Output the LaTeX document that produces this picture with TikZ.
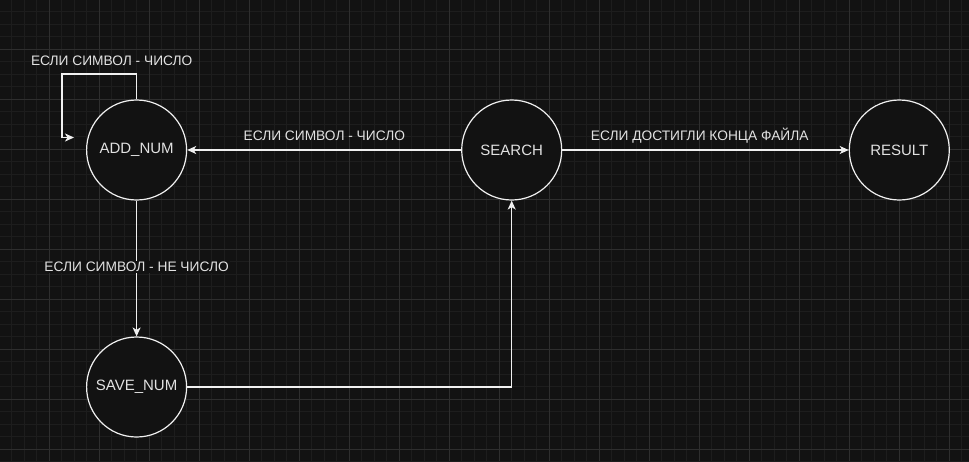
\documentclass[tikz,border=0pt]{standalone}
\usepackage{fontspec}
\setmainfont{Liberation Sans}
\usetikzlibrary{arrows.meta}
\definecolor{bgc}{RGB}{18,18,18}
\definecolor{minorc}{RGB}{29,29,29}
\definecolor{majorc}{RGB}{46,46,46}
\definecolor{linec}{RGB}{240,240,240}
\definecolor{textc}{RGB}{226,226,226}
\tikzset{
  state/.style={circle, draw=linec, line width=1.2pt, fill=bgc, minimum size=100pt, inner sep=0pt, text=textc, font=\fontsize{15}{17}\selectfont},
  conn/.style={draw=linec, line width=1.3pt, -{Stealth[length=9pt, width=8pt, inset=2.5pt]}},
  lbl/.style={text=textc, font=\fontsize{13.75}{16}\selectfont, inner sep=1pt},
}
\begin{document}
\begin{tikzpicture}[x=1pt, y=-1pt]
\fill[bgc] (0,0) rectangle (969,461);
\useasboundingbox (0,0) rectangle (969,461);
\foreach \i in {0,...,77} {
  \draw[minorc, line width=0.8pt] ({11.8+12.5*\i},0) -- ({11.8+12.5*\i},461);
}
\foreach \i in {0,...,36} {
  \draw[minorc, line width=0.8pt] (0,{11.8+12.5*\i}) -- (969,{11.8+12.5*\i});
}
\foreach \i in {0,...,19} {
  \draw[majorc, line width=0.8pt] ({49.3+50*\i},0) -- ({49.3+50*\i},461);
}
\foreach \i in {0,...,8} {
  \draw[majorc, line width=0.8pt] (0,{49.3+50*\i}) -- (969,{49.3+50*\i});
}

\node[state] (add) at (136.6,150) {ADD\_NUM};
\node[state] (search) at (511.7,150) {SEARCH};
\node[state] (result) at (899.3,150) {RESULT};
\node[state] (save) at (136.6,387) {SAVE\_NUM};

\coordinate (loopA) at (62,74);
\coordinate (loopB) at (62,137.5);
\coordinate (loopEnd) at (74,137.5);

\draw[conn] (add.north) |- (loopA) -- (loopB) -- (loopEnd);
\node[lbl] (lloop) at (111.7,61) {ЕСЛИ СИМВОЛ - ЧИСЛО};

\draw[conn] (search) -- (add);
\node[lbl] (lsa) at (324.3,136) {ЕСЛИ СИМВОЛ - ЧИСЛО};

\draw[conn] (search) -- (result);
\node[lbl] (lsr) at (699.7,136) {ЕСЛИ ДОСТИГЛИ КОНЦА ФАЙЛА};

\draw[conn] (add) -- (save);
\node[lbl, fill=bgc] (las) at (136.6,267) {ЕСЛИ СИМВОЛ - НЕ ЧИСЛО};

\draw[conn] (save.east) -| (search.south);
\end{tikzpicture}
\end{document}
